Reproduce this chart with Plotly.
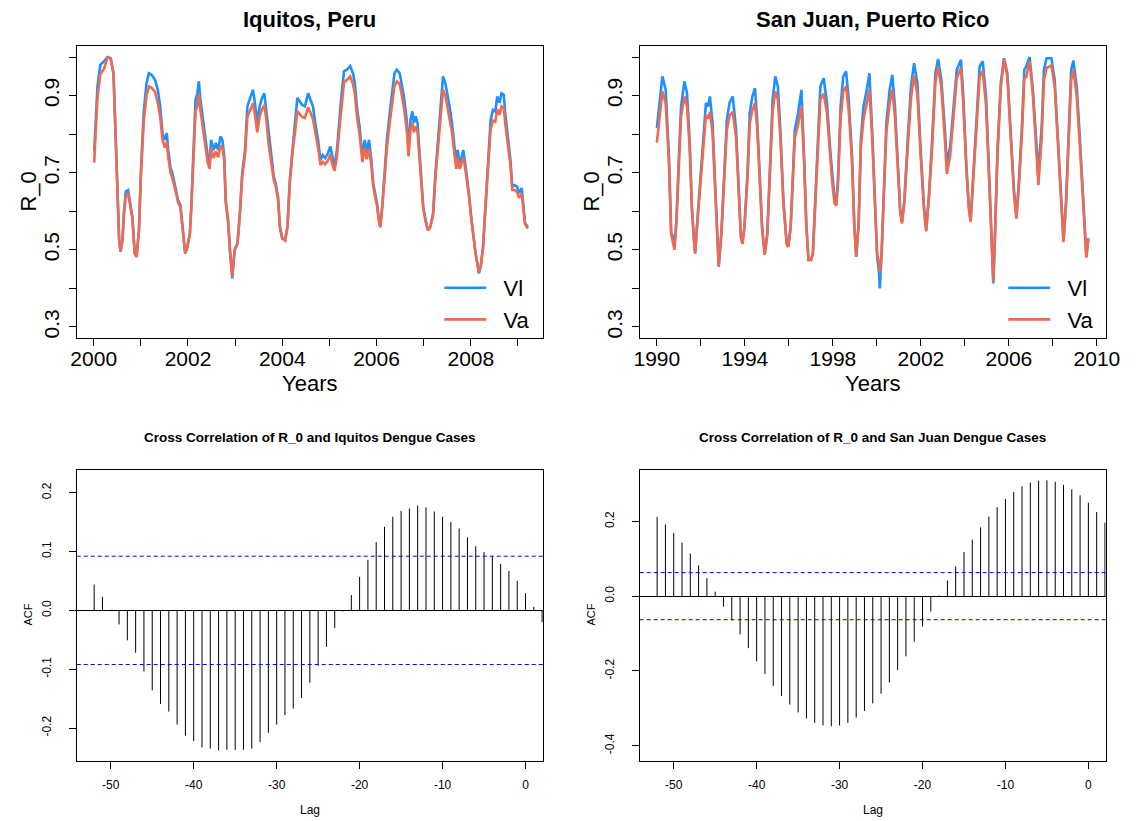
import plotly.graph_objects as go

# ---------------- data ----------------
iq_years = [2000.01, 2000.08, 2000.14, 2000.22, 2000.29, 2000.36, 2000.42, 2000.47, 2000.50, 2000.54,
            2000.57, 2000.61, 2000.64, 2000.68, 2000.73, 2000.77, 2000.82, 2000.87, 2000.91, 2000.96,
            2001.00, 2001.06, 2001.12, 2001.17, 2001.23, 2001.30, 2001.36, 2001.41, 2001.46, 2001.51,
            2001.55, 2001.58, 2001.63, 2001.67, 2001.72, 2001.76, 2001.79, 2001.84, 2001.90, 2001.94,
            2001.98, 2002.04, 2002.07, 2002.12, 2002.16, 2002.20, 2002.23, 2002.26, 2002.32, 2002.37,
            2002.42, 2002.46, 2002.49, 2002.54, 2002.59, 2002.64, 2002.69, 2002.73, 2002.77, 2002.80,
            2002.85, 2002.89, 2002.94, 2002.99, 2003.05, 2003.10, 2003.15, 2003.21, 2003.26, 2003.33,
            2003.38, 2003.42, 2003.47, 2003.52, 2003.57, 2003.62, 2003.66, 2003.71, 2003.77, 2003.82,
            2003.86, 2003.91, 2003.95, 2004.00, 2004.06, 2004.11, 2004.16, 2004.21, 2004.27, 2004.32,
            2004.37, 2004.42, 2004.48, 2004.55, 2004.60, 2004.65, 2004.70, 2004.76, 2004.81, 2004.86,
            2004.91, 2004.97, 2005.02, 2005.07, 2005.11, 2005.16, 2005.21, 2005.26, 2005.31, 2005.37,
            2005.44, 2005.50, 2005.54, 2005.59, 2005.64, 2005.70, 2005.75, 2005.79, 2005.84, 2005.89,
            2005.93, 2005.98, 2006.01, 2006.05, 2006.08, 2006.12, 2006.17, 2006.22, 2006.28, 2006.33,
            2006.38, 2006.43, 2006.49, 2006.53, 2006.58, 2006.64, 2006.68, 2006.72, 2006.76, 2006.79,
            2006.83, 2006.87, 2006.92, 2006.95, 2006.99, 2007.04, 2007.09, 2007.14, 2007.20, 2007.25,
            2007.30, 2007.35, 2007.41, 2007.46, 2007.50, 2007.55, 2007.60, 2007.65, 2007.69, 2007.72,
            2007.76, 2007.79, 2007.84, 2007.88, 2007.93, 2007.96, 2008.00, 2008.05, 2008.10, 2008.15,
            2008.17, 2008.21, 2008.26, 2008.31, 2008.37, 2008.42, 2008.47, 2008.52, 2008.56, 2008.61,
            2008.65, 2008.70, 2008.73, 2008.79, 2008.84, 2008.88, 2008.93, 2008.98, 2009.02, 2009.08,
            2009.11, 2009.15, 2009.21]

iq_vl = [0.755, 0.924, 0.980, 0.989, 1.000, 0.997, 0.958, 0.785, 0.629, 0.526,
         0.495, 0.526, 0.595, 0.651, 0.655, 0.621, 0.586, 0.491, 0.482, 0.552,
         0.699, 0.855, 0.932, 0.958, 0.954, 0.941, 0.915, 0.872, 0.803, 0.785,
         0.803, 0.759, 0.712, 0.699, 0.673, 0.647, 0.629, 0.616, 0.543, 0.491,
         0.504, 0.543, 0.612, 0.785, 0.889, 0.906, 0.937, 0.894, 0.837, 0.777,
         0.742, 0.725, 0.785, 0.759, 0.777, 0.759, 0.794, 0.785, 0.742, 0.629,
         0.577, 0.500, 0.426, 0.500, 0.517, 0.595, 0.699, 0.759, 0.872, 0.898,
         0.915, 0.881, 0.829, 0.872, 0.894, 0.906, 0.863, 0.794, 0.742, 0.690,
         0.673, 0.638, 0.560, 0.530, 0.526, 0.560, 0.681, 0.759, 0.829, 0.894,
         0.885, 0.876, 0.872, 0.906, 0.889, 0.872, 0.829, 0.785, 0.733, 0.746,
         0.738, 0.751, 0.768, 0.733, 0.716, 0.759, 0.837, 0.906, 0.963, 0.967,
         0.977, 0.958, 0.932, 0.863, 0.820, 0.742, 0.785, 0.751, 0.785, 0.733,
         0.673, 0.638, 0.621, 0.577, 0.560, 0.612, 0.699, 0.785, 0.855, 0.906,
         0.958, 0.967, 0.958, 0.932, 0.898, 0.837, 0.759, 0.837, 0.859, 0.829,
         0.846, 0.829, 0.742, 0.681, 0.612, 0.577, 0.552, 0.560, 0.595, 0.699,
         0.785, 0.872, 0.950, 0.932, 0.906, 0.872, 0.829, 0.768, 0.725, 0.759,
         0.725, 0.733, 0.759, 0.725, 0.681, 0.647, 0.595, 0.543, 0.491, 0.456,
         0.439, 0.456, 0.508, 0.612, 0.733, 0.837, 0.863, 0.859, 0.898, 0.881,
         0.906, 0.902, 0.855, 0.785, 0.733, 0.664, 0.668, 0.664, 0.647, 0.660,
         0.621, 0.569, 0.560]

iq_va = [0.726, 0.895, 0.955, 0.970, 0.998, 0.997, 0.955, 0.780, 0.625, 0.524,
         0.495, 0.524, 0.590, 0.640, 0.645, 0.615, 0.583, 0.491, 0.482, 0.550,
         0.690, 0.830, 0.900, 0.924, 0.920, 0.910, 0.880, 0.845, 0.785, 0.765,
         0.780, 0.740, 0.700, 0.685, 0.662, 0.640, 0.622, 0.610, 0.540, 0.491,
         0.504, 0.540, 0.608, 0.770, 0.860, 0.875, 0.905, 0.865, 0.815, 0.760,
         0.725, 0.710, 0.765, 0.738, 0.755, 0.740, 0.770, 0.765, 0.730, 0.625,
         0.575, 0.500, 0.430, 0.500, 0.515, 0.590, 0.690, 0.745, 0.845, 0.865,
         0.880, 0.850, 0.805, 0.845, 0.865, 0.875, 0.840, 0.775, 0.728, 0.680,
         0.665, 0.632, 0.558, 0.530, 0.524, 0.558, 0.672, 0.745, 0.805, 0.860,
         0.852, 0.845, 0.842, 0.870, 0.855, 0.840, 0.805, 0.765, 0.720, 0.728,
         0.722, 0.732, 0.748, 0.718, 0.705, 0.742, 0.812, 0.875, 0.935, 0.940,
         0.950, 0.930, 0.905, 0.840, 0.800, 0.728, 0.765, 0.735, 0.762, 0.718,
         0.665, 0.630, 0.615, 0.575, 0.558, 0.608, 0.690, 0.765, 0.830, 0.875,
         0.925, 0.937, 0.930, 0.905, 0.870, 0.812, 0.742, 0.812, 0.830, 0.805,
         0.820, 0.805, 0.728, 0.672, 0.608, 0.575, 0.550, 0.558, 0.590, 0.690,
         0.765, 0.842, 0.915, 0.900, 0.875, 0.845, 0.805, 0.750, 0.710, 0.740,
         0.710, 0.718, 0.740, 0.712, 0.672, 0.640, 0.590, 0.540, 0.491, 0.458,
         0.442, 0.458, 0.506, 0.608, 0.720, 0.812, 0.835, 0.832, 0.865, 0.850,
         0.872, 0.868, 0.828, 0.765, 0.720, 0.655, 0.655, 0.650, 0.635, 0.645,
         0.615, 0.567, 0.555]

sj_years = [1990.00, 1990.25, 1990.40, 1990.55, 1990.65, 1990.74, 1990.80, 1990.89, 1991.00, 1991.10,
            1991.25, 1991.37, 1991.49, 1991.59, 1991.69, 1991.74, 1991.84, 1991.99, 1992.11, 1992.23,
            1992.33, 1992.41, 1992.53, 1992.63, 1992.73, 1992.81, 1992.93, 1993.08, 1993.18, 1993.30,
            1993.45, 1993.60, 1993.71, 1993.82, 1993.89, 1993.98, 1994.12, 1994.22, 1994.34, 1994.46,
            1994.56, 1994.67, 1994.78, 1994.90, 1995.02, 1995.16, 1995.26, 1995.38, 1995.50, 1995.62,
            1995.75, 1995.90, 1995.97, 1996.08, 1996.20, 1996.27, 1996.42, 1996.57, 1996.69, 1996.79,
            1996.89, 1997.01, 1997.09, 1997.16, 1997.31, 1997.43, 1997.58, 1997.73, 1997.88, 1997.98,
            1998.08, 1998.16, 1998.23, 1998.35, 1998.47, 1998.60, 1998.72, 1998.87, 1998.97, 1999.06,
            1999.17, 1999.27, 1999.39, 1999.54, 1999.66, 1999.79, 1999.91, 2000.01, 2000.10, 2000.13,
            2000.21, 2000.31, 2000.43, 2000.58, 2000.70, 2000.82, 2000.95, 2001.06, 2001.14, 2001.25,
            2001.40, 2001.55, 2001.69, 2001.84, 2001.99, 2002.14, 2002.24, 2002.36, 2002.51, 2002.66,
            2002.78, 2002.93, 2003.08, 2003.18, 2003.33, 2003.48, 2003.63, 2003.82, 2003.92, 2004.07,
            2004.18, 2004.26, 2004.37, 2004.52, 2004.67, 2004.81, 2004.96, 2005.11, 2005.22, 2005.29,
            2005.36, 2005.48, 2005.63, 2005.78, 2005.93, 2006.08, 2006.23, 2006.34, 2006.45, 2006.60,
            2006.70, 2006.79, 2006.94, 2007.09, 2007.24, 2007.34, 2007.49, 2007.59, 2007.71, 2007.93,
            2008.08, 2008.23, 2008.38, 2008.48, 2008.60, 2008.72, 2008.83, 2008.93, 2009.08, 2009.23,
            2009.35, 2009.44, 2009.52, 2009.61]

sj_vl = [0.816, 0.950, 0.915, 0.742, 0.543, 0.534, 0.508, 0.577, 0.742, 0.872,
         0.937, 0.906, 0.785, 0.612, 0.526, 0.491, 0.577, 0.699, 0.803, 0.881,
         0.872, 0.898, 0.829, 0.681, 0.526, 0.456, 0.543, 0.699, 0.837, 0.881,
         0.898, 0.811, 0.655, 0.534, 0.517, 0.560, 0.699, 0.855, 0.898, 0.919,
         0.837, 0.699, 0.560, 0.487, 0.543, 0.742, 0.889, 0.950, 0.924, 0.803,
         0.629, 0.517, 0.508, 0.560, 0.699, 0.811, 0.855, 0.915, 0.742, 0.569,
         0.474, 0.474, 0.491, 0.577, 0.785, 0.924, 0.945, 0.881, 0.759, 0.681,
         0.629, 0.629, 0.681, 0.872, 0.950, 0.963, 0.889, 0.742, 0.569, 0.482,
         0.569, 0.785, 0.872, 0.915, 0.958, 0.803, 0.612, 0.482, 0.439, 0.400,
         0.482, 0.655, 0.829, 0.915, 0.954, 0.872, 0.716, 0.603, 0.573, 0.629,
         0.785, 0.924, 0.984, 0.932, 0.759, 0.612, 0.552, 0.638, 0.785, 0.958,
         0.995, 0.941, 0.820, 0.725, 0.768, 0.872, 0.967, 0.993, 0.906, 0.716,
         0.612, 0.577, 0.681, 0.829, 0.976, 0.989, 0.898, 0.681, 0.508, 0.413,
         0.526, 0.759, 0.932, 0.997, 0.958, 0.794, 0.655, 0.586, 0.673, 0.829,
         0.967, 0.976, 1.000, 0.915, 0.785, 0.699, 0.820, 0.967, 0.997, 0.997,
         0.941, 0.785, 0.612, 0.526, 0.629, 0.829, 0.967, 0.991, 0.924, 0.785,
         0.655, 0.577, 0.482, 0.530]

sj_va = [0.778, 0.911, 0.880, 0.725, 0.540, 0.515, 0.500, 0.575, 0.728, 0.845,
         0.898, 0.872, 0.765, 0.607, 0.520, 0.490, 0.572, 0.688, 0.783, 0.850,
         0.840, 0.858, 0.803, 0.672, 0.524, 0.458, 0.540, 0.690, 0.810, 0.848,
         0.858, 0.790, 0.648, 0.532, 0.515, 0.558, 0.690, 0.828, 0.862, 0.880,
         0.815, 0.690, 0.558, 0.487, 0.540, 0.728, 0.860, 0.911, 0.890, 0.783,
         0.622, 0.515, 0.508, 0.556, 0.688, 0.790, 0.825, 0.872, 0.730, 0.566,
         0.474, 0.474, 0.490, 0.573, 0.765, 0.890, 0.905, 0.855, 0.742, 0.668,
         0.620, 0.615, 0.670, 0.840, 0.910, 0.924, 0.860, 0.730, 0.566, 0.482,
         0.565, 0.765, 0.838, 0.880, 0.915, 0.785, 0.608, 0.490, 0.460, 0.440,
         0.490, 0.648, 0.805, 0.880, 0.915, 0.845, 0.703, 0.598, 0.568, 0.622,
         0.765, 0.892, 0.953, 0.903, 0.742, 0.605, 0.548, 0.630, 0.765, 0.935,
         0.976, 0.920, 0.795, 0.697, 0.745, 0.845, 0.945, 0.972, 0.885, 0.703,
         0.605, 0.572, 0.668, 0.805, 0.950, 0.963, 0.875, 0.672, 0.508, 0.418,
         0.524, 0.745, 0.920, 0.995, 0.948, 0.780, 0.645, 0.580, 0.660, 0.810,
         0.945, 0.948, 0.990, 0.900, 0.760, 0.668, 0.790, 0.940, 0.972, 0.978,
         0.925, 0.768, 0.607, 0.520, 0.622, 0.805, 0.940, 0.967, 0.900, 0.765,
         0.645, 0.570, 0.480, 0.530]

lags = list(range(-52, 3))

iq_ccf = [0.044, 0.023, 0.001, -0.024, -0.051, -0.072, -0.104, -0.136, -0.159, -0.172,
          -0.194, -0.213, -0.222, -0.233, -0.235, -0.238, -0.237, -0.237, -0.237, -0.235,
          -0.224, -0.208, -0.194, -0.178, -0.167, -0.149, -0.123, -0.094, -0.062, -0.030,
          -0.002, 0.026, 0.057, 0.086, 0.116, 0.142, 0.159, 0.169, 0.173, 0.178,
          0.175, 0.168, 0.159, 0.150, 0.139, 0.124, 0.109, 0.099, 0.092, 0.079,
          0.067, 0.050, 0.029, 0.006, -0.020]

sj_ccf = [0.212, 0.192, 0.169, 0.143, 0.114, 0.082, 0.048, 0.012, -0.028, -0.065,
          -0.102, -0.139, -0.174, -0.208, -0.240, -0.267, -0.290, -0.311, -0.327, -0.339,
          -0.346, -0.348, -0.346, -0.339, -0.325, -0.307, -0.287, -0.261, -0.231, -0.198,
          -0.161, -0.122, -0.081, -0.041, 0.002, 0.042, 0.080, 0.118, 0.151, 0.184,
          0.213, 0.238, 0.260, 0.279, 0.294, 0.304, 0.309, 0.310, 0.306, 0.298,
          0.286, 0.270, 0.250, 0.225, 0.197]

iq_ci = 0.092
sj_ci = 0.063

series_names = ["Vl", "Va"]
titles_top = ["Iquitos, Peru", "San Juan, Puerto Rico"]
titles_bottom = ["Cross Correlation of R_0 and Iquitos Dengue Cases",
                 "Cross Correlation of R_0 and San Juan Dengue Cases"]

iq_xticks = list(range(2000, 2010))
iq_xlabels = [str(v) if v % 2 == 0 else "" for v in iq_xticks]
sj_xticks = list(range(1990, 2011, 2))
sj_xlabels = [str(v) if (v - 1990) % 4 == 0 else "" for v in sj_xticks]
r0_ticks = [0.3, 0.4, 0.5, 0.6, 0.7, 0.8, 0.9, 1.0]
r0_labels = ["0.3", "", "0.5", "", "0.7", "", "0.9", ""]
lag_ticks = [-50, -40, -30, -20, -10, 0]
lag_labels = ["-50", "-40", "-30", "-20", "-10", "0"]
iq_acf_ticks = [-0.2, -0.1, 0.0, 0.1, 0.2]
iq_acf_labels = ["-0.2", "-0.1", "0.0", "0.1", "0.2"]
sj_acf_ticks = [-0.4, -0.2, 0.0, 0.2]
sj_acf_labels = ["-0.4", "-0.2", "0.0", "0.2"]

# ---------------- styling / layout ----------------
W, H = 1143, 821
BLUE = "#1E90FF"
RED = "#EE6A50"
FONT = "Liberation Sans, Arial, Helvetica, sans-serif"
NB = "\u00a0\u00a0"


def fx(p):
    return p / W


def fy(p):
    return 1 - p / H


fig = go.Figure()

# time series
for (xs, vl, va, xa, ya, lg) in [(iq_years, iq_vl, iq_va, "x", "y", "legend"),
                                  (sj_years, sj_vl, sj_va, "x2", "y2", "legend2")]:
    fig.add_trace(go.Scatter(x=xs, y=vl, mode="lines", name=NB + series_names[0],
                             line=dict(color=BLUE, width=2.6), xaxis=xa, yaxis=ya, legend=lg))
    fig.add_trace(go.Scatter(x=xs, y=va, mode="lines", name=NB + series_names[1],
                             line=dict(color=RED, width=2.6), xaxis=xa, yaxis=ya, legend=lg))

# cross-correlation spikes (vertical segments from 0 to each value)
for (vals, xa, ya) in [(iq_ccf, "x3", "y3"), (sj_ccf, "x4", "y4")]:
    sx, sy = [], []
    for lag, v in zip(lags, vals):
        sx += [lag, lag, None]
        sy += [0, v, None]
    fig.add_trace(go.Scatter(x=sx, y=sy, mode="lines", line=dict(color="black", width=1),
                             xaxis=xa, yaxis=ya, showlegend=False, hoverinfo="skip"))


def axis(size, standoff=0, zero=False, angle=None):
    d = dict(showline=True, linecolor="black", linewidth=1, mirror=True, ticks="outside",
             ticklen=7, tickcolor="black", tickwidth=1, showgrid=False, zeroline=zero,
             tickfont=dict(family=FONT, size=size, color="black"), ticklabelstandoff=standoff)
    if zero:
        d.update(zerolinecolor="black", zerolinewidth=1)
    if angle is not None:
        d["tickangle"] = angle
    return d


top_y_dom = [fy(338), fy(46)]
bot_y_dom = [fy(761), fy(470)]
left_x_dom = [fx(72), fx(546.5)]
right_x_dom = [fx(645), fx(1119.3)]

fig.update_layout(
    xaxis=dict(domain=left_x_dom, anchor="y", range=[1999.64, 2009.53], tickvals=iq_xticks,
               ticktext=iq_xlabels, **axis(21, -5)),
    yaxis=dict(domain=top_y_dom, anchor="x", range=[0.2714, 1.0286], tickvals=r0_ticks,
               ticktext=r0_labels, **axis(21, 1, angle=-90)),
    xaxis2=dict(domain=right_x_dom, anchor="y2", range=[1989.22, 2010.4], tickvals=sj_xticks,
                ticktext=sj_xlabels, **axis(21, -5)),
    yaxis2=dict(domain=top_y_dom, anchor="x2", range=[0.2714, 1.0286], tickvals=r0_ticks,
                ticktext=r0_labels, **axis(21, 1, angle=-90)),
    xaxis3=dict(domain=left_x_dom, anchor="y3", range=[-54.1, 2.1], tickvals=lag_ticks,
                ticktext=lag_labels, **axis(12, 6)),
    yaxis3=dict(domain=bot_y_dom, anchor="x3", range=[-0.256, 0.2385], tickvals=iq_acf_ticks,
                ticktext=iq_acf_labels, **axis(12, 13, zero=True, angle=-90)),
    xaxis4=dict(domain=right_x_dom, anchor="y4", range=[-54.1, 2.09], tickvals=lag_ticks,
                ticktext=lag_labels, **axis(12, 6)),
    yaxis4=dict(domain=bot_y_dom, anchor="x4", range=[-0.441, 0.3376], tickvals=sj_acf_ticks,
                ticktext=sj_acf_labels, **axis(12, 13, zero=True, angle=-90)),
    legend=dict(x=fx(441), y=fy(267), xanchor="left", yanchor="top", bgcolor="rgba(0,0,0,0)",
                font=dict(family=FONT, size=22, color="black"), itemwidth=42),
    legend2=dict(x=fx(1015), y=fy(267), xanchor="left", yanchor="top", bgcolor="rgba(0,0,0,0)",
                 font=dict(family=FONT, size=22, color="black"), itemwidth=42),
    width=W, height=H, autosize=False,
    margin=dict(l=0, r=0, t=0, b=0),
    paper_bgcolor="white", plot_bgcolor="white",
)

# confidence bounds
shapes = []
for (ci, xa, ya) in [(iq_ci, "x3", "y3"), (sj_ci, "x4", "y4")]:
    for v in (ci, -ci):
        shapes.append(dict(type="line", xref=f"{xa} domain", yref=ya, x0=0, x1=1, y0=v, y1=v,
                           line=dict(color="#0000FF", width=1, dash="4px,3px")))
fig.update_layout(shapes=shapes)

ann = []
for t, cx in zip(titles_top, [309, 882]):
    ann.append(dict(text=f"<b>{t}</b>", x=fx(cx), y=fy(19), xref="paper", yref="paper",
                    showarrow=False, xanchor="center", yanchor="middle",
                    font=dict(family=FONT, size=22, color="black")))
for t, cx in zip(titles_bottom, [309, 882]):
    ann.append(dict(text=f"<b>{t}</b>", x=fx(cx), y=fy(438), xref="paper", yref="paper",
                    showarrow=False, xanchor="center", yanchor="middle",
                    font=dict(family=FONT, size=13.5, color="black")))
for cx in [309, 882]:
    ann.append(dict(text="Years", x=fx(cx), y=fy(383), xref="paper", yref="paper",
                    showarrow=False, xanchor="center", yanchor="middle",
                    font=dict(family=FONT, size=22, color="black")))
    ann.append(dict(text="Lag", x=fx(cx), y=fy(810), xref="paper", yref="paper",
                    showarrow=False, xanchor="center", yanchor="middle",
                    font=dict(family=FONT, size=12, color="black")))
for cx in [22, 595]:
    ann.append(dict(text="R_0", x=fx(cx), y=fy(192), xref="paper", yref="paper",
                    showarrow=False, xanchor="center", yanchor="middle", textangle=-90,
                    font=dict(family=FONT, size=22, color="black")))
    ann.append(dict(text="ACF", x=fx(cx), y=fy(615), xref="paper", yref="paper",
                    showarrow=False, xanchor="center", yanchor="middle", textangle=-90,
                    font=dict(family=FONT, size=11, color="black")))
fig.update_layout(annotations=ann)

fig.write_html("out.html")
